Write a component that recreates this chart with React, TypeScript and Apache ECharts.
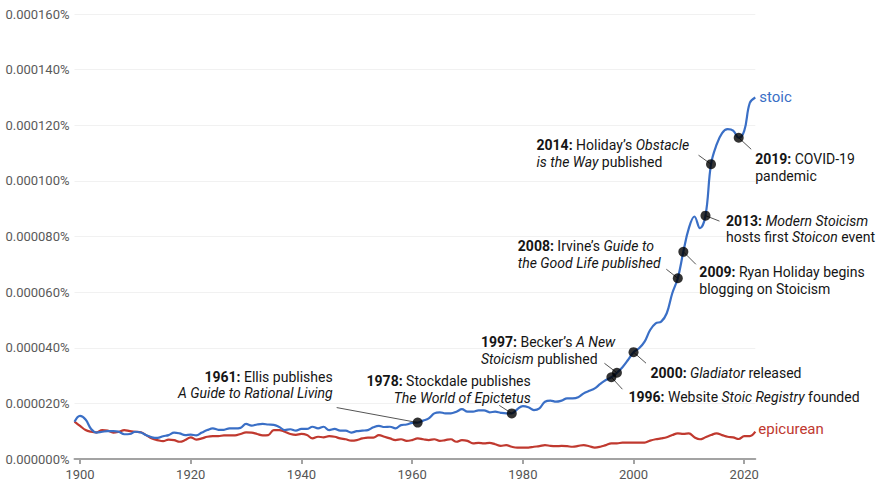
import React, { useEffect, useRef } from "react";
import * as echarts from "echarts";

const startYear = 1899;

const stoic = [
  13.4, 15.5, 14.2, 10.8, 9.5, 9.8, 10.0, 10.0, 9.8, 8.9,
  9.0, 9.8, 9.5, 8.5, 7.8, 7.6, 8.2, 8.6, 9.5, 9.2,
  8.6, 8.8, 8.5, 9.5, 10.4, 11.0, 10.5, 10.5, 11.0, 11.0,
  11.2, 12.6, 12.0, 12.4, 12.6, 12.4, 12.3, 11.5, 10.4, 10.7,
  10.2, 10.8, 10.8, 11.6, 11.0, 11.6, 10.4, 10.8, 10.2, 10.2,
  9.5, 10.0, 10.2, 10.4, 11.4, 11.9, 11.5, 11.6, 11.0, 12.2,
  12.4, 13.0, 13.1, 13.8, 14.6, 16.4, 16.8, 16.4, 16.4, 17.0,
  17.9, 17.0, 17.0, 17.5, 17.5, 16.8, 17.0, 16.6, 16.4, 16.4,
  17.9, 19.0, 18.6, 17.6, 18.2, 20.6, 21.0, 20.6, 21.0, 21.8,
  21.8, 22.2, 23.6, 24.5, 25.4, 27.0, 28.4, 29.4, 31.0, 33.0,
  35.6, 38.4, 39.8, 42.2, 46.4, 48.8, 49.4, 52.4, 59.6, 65.0,
  74.5, 83.0, 87.2, 83.0, 87.5, 106.0, 113.0, 117.2, 118.6, 118.1,
  115.5, 118.0, 128.0, 130.0,
];

const epicurean = [
  13.4, 11.9, 10.4, 9.8, 9.6, 10.4, 10.2, 9.5, 9.8, 10.4,
  10.0, 9.8, 9.6, 8.5, 7.4, 6.8, 6.4, 7.0, 6.8, 6.2,
  6.8, 7.8, 7.0, 7.4, 8.0, 8.2, 8.2, 8.5, 8.5, 8.5,
  9.0, 9.6, 9.5, 9.0, 8.5, 8.6, 10.4, 10.4, 9.8, 9.0,
  8.7, 9.0, 8.6, 7.4, 8.0, 7.8, 8.2, 8.0, 7.4, 7.1,
  6.6, 6.8, 7.4, 7.7, 7.7, 8.6, 8.0, 7.4, 6.8, 7.1,
  6.5, 6.8, 7.4, 7.1, 6.8, 7.1, 6.5, 6.8, 7.1, 6.2,
  6.8, 6.5, 5.6, 5.8, 5.6, 5.8, 5.3, 4.7, 5.0, 4.4,
  4.1, 4.1, 4.1, 4.4, 4.6, 5.0, 4.7, 4.6, 4.7, 4.6,
  4.4, 4.7, 5.0, 4.6, 4.1, 4.4, 5.0, 5.6, 5.6, 5.9,
  5.9, 5.9, 5.9, 5.9, 6.6, 7.1, 7.4, 7.8, 8.6, 9.2,
  9.0, 9.2, 7.8, 7.1, 7.8, 8.6, 9.2, 8.6, 8.0, 7.8,
  7.2, 8.2, 8.2, 9.8,
];

const xTickYears = [1900, 1920, 1940, 1960, 1980, 2000, 2020];

const eventYears = [1961, 1978, 1996, 1997, 2000, 2008, 2009, 2013, 2014, 2019];
const eventTexts = [
  "{b|1961:} Ellis publishes\n{i|A Guide to Rational Living}",
  "{b|1978:} Stockdale publishes\n{i|The World of Epictetus}",
  "{b|1996:} Website {i|Stoic Registry} founded",
  "{b|1997:} Becker’s {i|A New}\n{i|Stoicism} published",
  "{b|2000:} {i|Gladiator} released",
  "{b|2008:} Irvine’s {i|Guide to}\n{i|the Good Life published}",
  "{b|2009:} Ryan Holiday begins\nblogging on Stoicism",
  "{b|2013:} {i|Modern Stoicism}\nhosts first {i|Stoicon} event",
  "{b|2014:} Holiday’s {i|Obstacle}\n{i|is the Way} published",
  "{b|2019:} COVID-19\npandemic",
];

// label placement relative to the marker (pixels)
const labelLayout: Record<number, { align: string; dx: number; dy: number; lx: number; ly: number }> = {
  1961: { align: "right", dx: -85, dy: -46, lx: -81, ly: -15 },
  1978: { align: "right", dx: 19, dy: -32, lx: -12.5, ly: -8 },
  1996: { align: "left", dx: 17, dy: 20, lx: 11, ly: 12 },
  1997: { align: "left", dx: -136, dy: -31, lx: -12.5, ly: -9.5 },
  2000: { align: "left", dx: 17, dy: 20.5, lx: 12.5, ly: 11 },
  2008: { align: "left", dx: -160, dy: -32, lx: -11.5, ly: -9 },
  2009: { align: "left", dx: 16, dy: 20, lx: 12.5, ly: 12.5 },
  2013: { align: "left", dx: 20.5, dy: 5, lx: 14, ly: 5.5 },
  2014: { align: "left", dx: -174.5, dy: -19, lx: -12.5, ly: -9 },
  2019: { align: "left", dx: 16.5, dy: 21, lx: 12.5, ly: 11.5 },
};

const BLUE = "#3a6fc6";
const RED = "#c0392f";
const FONT = "Roboto, 'Noto Sans', sans-serif";

function toPairs(arr: number[]) {
  return arr.map((v, i) => [startYear + i, v]);
}

export default function App() {
  const ref = useRef<HTMLDivElement>(null);

  useEffect(() => {
    if (!ref.current) return;
    const chart = echarts.init(ref.current, null, { renderer: "svg" });

    const markerData = eventYears.map((y) => [y, stoic[y - startYear]]);

    chart.setOption({
      animation: false,
      backgroundColor: "#ffffff",
      grid: { left: 74.5, right: 134.7, top: 14, bottom: 34, containLabel: false },
      xAxis: {
        type: "value",
        min: startYear,
        max: 2022,
        axisLine: { show: true, lineStyle: { color: "#a3a3a3", width: 2 } },
        axisTick: { show: true, customValues: xTickYears, length: 5, lineStyle: { color: "#a3a3a3", width: 2 } },
        axisLabel: {
          customValues: xTickYears,
          color: "#555555",
          fontSize: 13,
          fontFamily: FONT,
          margin: 9,
          formatter: (v: number) => String(v),
        },
        splitLine: { show: false },
      },
      yAxis: {
        type: "value",
        min: 0,
        max: 160,
        interval: 20,
        axisLine: { show: false },
        axisTick: { show: false },
        axisLabel: {
          color: "#5a5a5a",
          fontSize: 13,
          fontFamily: FONT,
          margin: 5,
          formatter: (v: number) => (v / 1e6).toFixed(6) + "%",
        },
        splitLine: { show: true, lineStyle: { color: "#f1f1f1", width: 1 } },
      },
      series: [
        {
          name: "epicurean",
          type: "line",
          data: toPairs(epicurean),
          smooth: 0.4,
          showSymbol: false,
          symbol: "none",
          lineStyle: { color: RED, width: 2.2 },
          itemStyle: { color: RED },
          z: 3,
          endLabel: {
            show: true,
            formatter: "{a}",
            color: RED,
            fontSize: 15,
            fontFamily: FONT,
            distance: 3,
            offset: [0, -3],
          },
        },
        {
          name: "stoic",
          type: "line",
          data: toPairs(stoic),
          smooth: 0.4,
          showSymbol: false,
          symbol: "none",
          lineStyle: { color: BLUE, width: 2.2 },
          itemStyle: { color: BLUE },
          z: 4,
          endLabel: {
            show: true,
            formatter: "{a}",
            color: BLUE,
            fontSize: 15,
            fontFamily: FONT,
            distance: 4,
          },
        },
        {
          name: "events",
          type: "scatter",
          data: markerData,
          symbol: "circle",
          symbolSize: 10,
          itemStyle: { color: "#000000" },
          z: 10,
        },
      ],
    });

    const graphics: any[] = [];
    eventYears.forEach((y, i) => {
      const p = chart.convertToPixel({ gridIndex: 0 }, [y, stoic[y - startYear]]) as number[];
      const L = labelLayout[y];
      const lh = 16.8;
      graphics.push({
        type: "line",
        z: 5,
        silent: true,
        shape: { x1: p[0], y1: p[1], x2: p[0] + L.lx, y2: p[1] + L.ly },
        style: { stroke: "#555555", lineWidth: 1 },
      });
      graphics.push({
        type: "text",
        z: 6,
        silent: true,
        x: p[0] + L.dx,
        y: p[1] + L.dy - lh / 2,
        style: {
          text: eventTexts[i],
          align: L.align,
          verticalAlign: "top",
          fill: "#151515",
          fontSize: 14,
          fontFamily: FONT,
          lineHeight: lh,
          rich: {
            b: { fontWeight: "bold", fontSize: 14, fontFamily: FONT, fill: "#151515", lineHeight: lh },
            i: { fontStyle: "italic", fontSize: 14, fontFamily: FONT, fill: "#151515", lineHeight: lh },
          },
        },
      });
    });
    chart.setOption({ graphic: graphics });

    return () => chart.dispose();
  }, []);

  return (
    <div
      ref={ref}
      style={{ position: "fixed", left: 0, top: 0, width: 890, height: 493, background: "#fff" }}
    />
  );
}
